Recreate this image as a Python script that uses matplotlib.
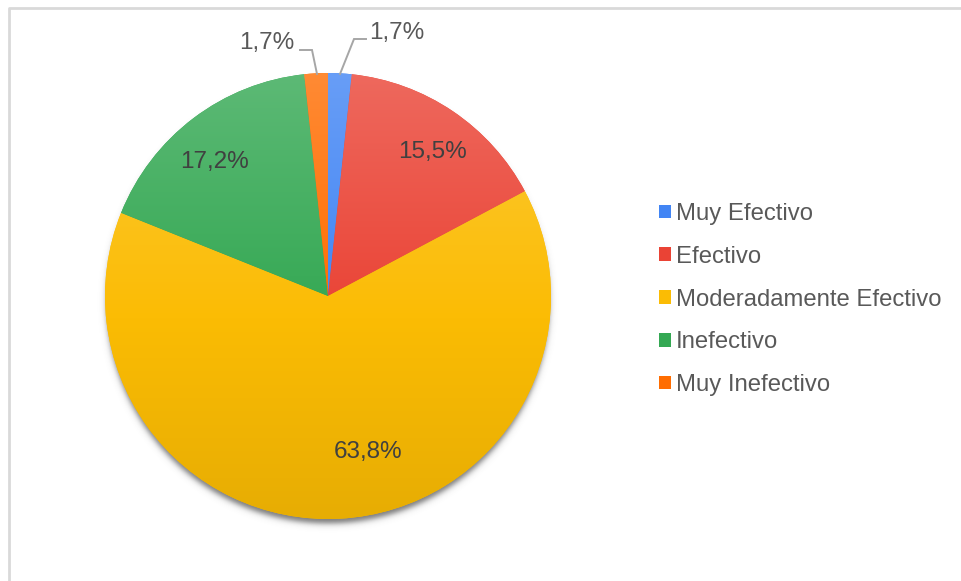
import numpy as np
import matplotlib
matplotlib.use("Agg")
import matplotlib.pyplot as plt
from matplotlib.colors import to_rgb
from matplotlib.patches import Patch

plt.rcParams["font.family"] = ["Liberation Sans", "DejaVu Sans"]

# Datos
categorias = ["Muy Efectivo", "Efectivo", "Moderadamente Efectivo", "Inefectivo", "Muy Inefectivo"]
porcentajes = [1.7, 15.5, 63.8, 17.2, 1.7]
colores = ["#4285F4", "#EA4335", "#FBBC04", "#34A853", "#FF6D01"]

# Posiciones de etiquetas (px, origen arriba-izquierda) y color del texto
pos_etiquetas = [(397, 33), (432, 152), (368, 452), (215, 162), (267, 43)]
color_etiquetas = ["#595959", "#404040", "#404040", "#404040", "#595959"]
# Líneas guía para las porciones pequeñas
guias = {0: [(340, 74), (354, 39), (366, 39)],
         4: [(317, 74), (312, 50), (300, 50)]}

W, H = 961, 581
CX, CY, R = 328, 296, 223
TXT = "#595959"


def py(y):
    return H - y


def gradiente(base, n=256):
    # claro arriba, color base al centro, más oscuro abajo
    c = np.array(to_rgb(base))
    t = np.linspace(0, 1, n)[:, None]
    claro = np.clip(0.2 * (1 - t / 0.55), 0, None)
    oscuro = np.clip(0.08 * (t - 0.55) / 0.45, 0, None)
    col = c * (1 - claro) + claro
    col = col * (1 - oscuro)
    return np.repeat(col[:, None, :], 2, axis=1)


fig = plt.figure(figsize=(W / 100, H / 100), dpi=100)
ax = fig.add_axes([0, 0, 1, 1])

# Sombra difusa bajo el pastel
ext = R + 30
xs = np.linspace(CX - ext, CX + ext, 400)
ys = np.linspace(CY - ext, CY + ext, 400)
XX, YY = np.meshgrid(xs, ys)
d = np.hypot(XX - CX, YY - (CY + 6)) - (R - 1)
alfa = 0.75 * 0.5 * (1 - np.tanh(d / 3.5))
sombra = np.zeros((400, 400, 4))
sombra[..., :3] = 0.3
sombra[..., 3] = alfa
ax.imshow(sombra, extent=[CX - ext, CX + ext, py(CY + ext), py(CY - ext)],
          origin="upper", zorder=1, interpolation="bilinear")

wedges, _ = ax.pie(porcentajes, colors=colores, startangle=90, counterclock=False,
                   center=(CX, py(CY)), radius=R, frame=True,
                   wedgeprops=dict(linewidth=0, antialiased=True))

for w, c in zip(wedges, colores):
    w.set_zorder(2)
    im = ax.imshow(gradiente(c), extent=[CX - R, CX + R, py(CY + R), py(CY - R)],
                   origin="upper", zorder=3, interpolation="bilinear", aspect="auto")
    im.set_clip_path(w)

for v, (x, y), tc in zip(porcentajes, pos_etiquetas, color_etiquetas):
    txt = f"{v:.1f}".replace(".", ",") + "%"
    ax.text(x, py(y), txt, ha="center", va="center", fontsize=17.5, color=tc, zorder=5)

for pts in guias.values():
    ax.plot([p[0] for p in pts], [py(p[1]) for p in pts], color="#A6A6A6",
            lw=1.4, zorder=4, solid_joinstyle="miter")

# Marco del área del gráfico
ax.plot([9, 9, W + 5], [py(H + 5), py(8), py(8)], color="#D9D9D9", lw=2, zorder=0,
        clip_on=False)

ax.set_xlim(0, W)
ax.set_ylim(0, H)
ax.set_aspect("equal")
ax.axis("off")

handles = [Patch(facecolor=c, edgecolor="none") for c in colores]
ax.legend(handles, categorias, loc="upper left", bbox_to_anchor=(659 / W, 1 - 203 / H),
          frameon=False, fontsize=17.2, labelcolor=TXT, handlelength=0.5,
          handleheight=0.5, handletextpad=0.2, labelspacing=0.87, borderpad=0,
          borderaxespad=0)

fig.savefig("out.png", dpi=100)
